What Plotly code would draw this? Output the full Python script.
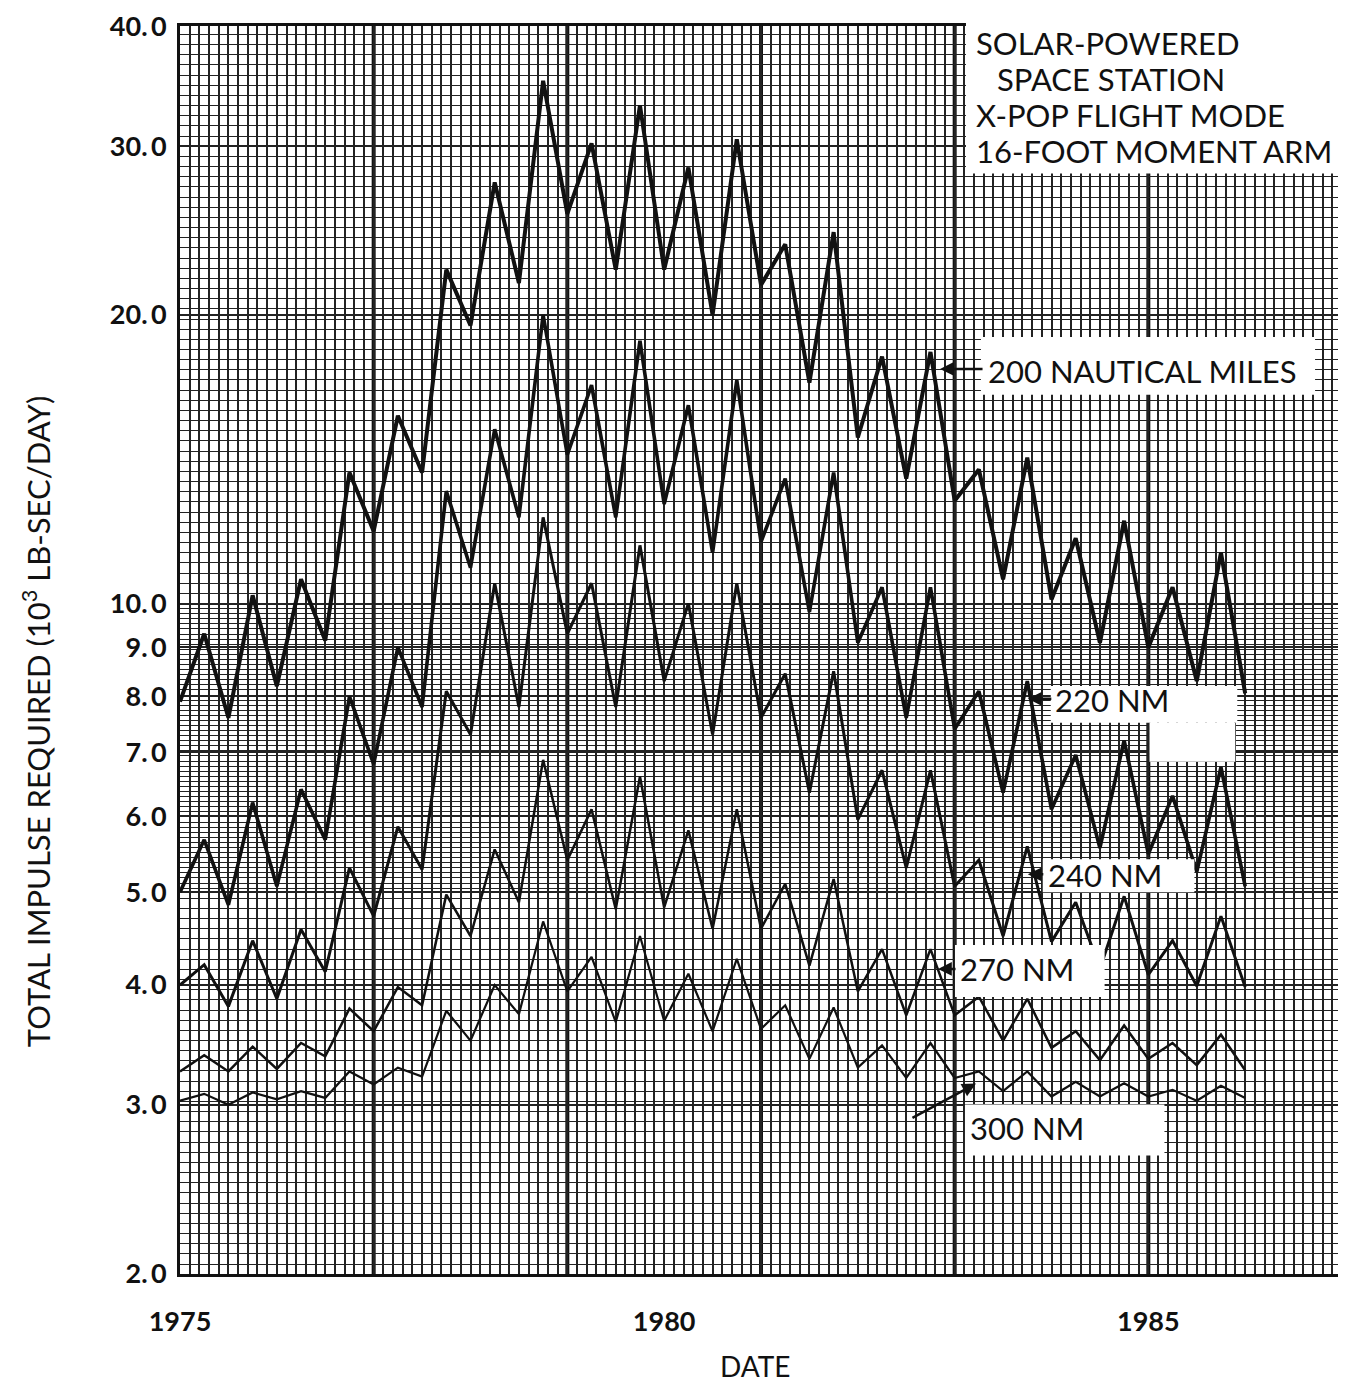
import numpy as np
import plotly.graph_objects as go

# ---------------- data ----------------
dates = [1975.0, 1975.25, 1975.5, 1975.75, 1976.0, 1976.25, 1976.5, 1976.75,
         1977.0, 1977.25, 1977.5, 1977.75, 1978.0, 1978.25, 1978.5, 1978.75,
         1979.0, 1979.25, 1979.5, 1979.75, 1980.0, 1980.25, 1980.5, 1980.75,
         1981.0, 1981.25, 1981.5, 1981.75, 1982.0, 1982.25, 1982.5, 1982.75,
         1983.0, 1983.25, 1983.5, 1983.75, 1984.0, 1984.25, 1984.5, 1984.75,
         1985.0, 1985.25, 1985.5, 1985.75, 1986.0]

nm200 = [7.9, 9.3, 7.6, 10.2, 8.2, 10.6, 9.15, 13.7, 11.9, 15.7, 13.7, 22.3,
         19.5, 27.5, 21.6, 35.1, 25.5, 30.2, 22.3, 33.1, 22.3, 28.5, 20.0, 30.5,
         21.5, 23.7, 17.0, 24.4, 14.9, 18.1, 13.5, 18.3, 12.8, 13.8, 10.6, 14.2,
         10.1, 11.7, 9.1, 12.2, 9.0, 10.4, 8.3, 11.3, 8.06]

nm220 = [5.0, 5.67, 4.85, 6.2, 5.07, 6.4, 5.67, 8.0, 6.8, 9.0, 7.8, 13.1,
         10.9, 15.2, 12.3, 20.0, 14.3, 16.9, 12.3, 18.8, 12.7, 16.1, 11.3, 17.1,
         11.6, 13.5, 9.8, 13.7, 9.1, 10.4, 7.6, 10.4, 7.4, 8.1, 6.35, 8.3,
         6.1, 6.95, 5.56, 7.2, 5.48, 6.3, 5.25, 6.75, 5.07]

nm240 = [4.0, 4.2, 3.8, 4.45, 3.87, 4.57, 4.13, 5.3, 4.72, 5.85, 5.28, 8.1,
         7.3, 10.5, 7.8, 12.3, 9.3, 10.5, 7.8, 11.5, 8.3, 10.0, 7.3, 10.5,
         7.6, 8.45, 6.35, 8.5, 5.95, 6.7, 5.3, 6.7, 5.07, 5.4, 4.5, 5.58,
         4.44, 4.88, 4.16, 4.95, 4.1, 4.45, 3.99, 4.72, 3.98]

nm270 = [3.25, 3.38, 3.25, 3.45, 3.27, 3.48, 3.37, 3.78, 3.58, 3.98, 3.81, 4.97,
         4.5, 5.54, 4.88, 6.87, 5.4, 6.1, 4.8, 6.6, 4.82, 5.8, 4.58, 6.1,
         4.58, 5.1, 4.19, 5.16, 3.94, 4.36, 3.72, 4.36, 3.72, 3.89, 3.5, 3.87,
         3.44, 3.58, 3.34, 3.63, 3.35, 3.48, 3.3, 3.55, 3.26]

nm300 = [3.03, 3.08, 3.0, 3.09, 3.04, 3.1, 3.05, 3.25, 3.15, 3.28, 3.21, 3.76,
         3.5, 4.0, 3.73, 4.66, 3.94, 4.28, 3.66, 4.5, 3.67, 4.11, 3.58, 4.26,
         3.6, 3.81, 3.35, 3.79, 3.28, 3.46, 3.2, 3.48, 3.2, 3.25, 3.1, 3.25,
         3.06, 3.17, 3.06, 3.16, 3.06, 3.11, 3.03, 3.14, 3.05]

y_tick_vals = [2, 3, 4, 5, 6, 7, 8, 9, 10, 20, 30, 40]
y_tick_text = ["2.\u20090", "3.\u20090", "4.\u20090", "5.\u20090", "6.\u20090",
               "7.\u20090", "8.\u20090", "9.\u20090", "10.\u20090", "20.\u20090",
               "30.\u20090", "40.\u20090"]
x_year_vals = [1975, 1976, 1977, 1978, 1979, 1980, 1981, 1982, 1983, 1984,
               1985, 1986, 1987]
x_year_text = ["1975", "", "", "", "", "1980", "", "", "", "", "1985", "", ""]
heavy_years = [1977, 1979, 1981, 1983, 1985]

series = [("200 NM", nm200, 4.0), ("220 NM", nm220, 3.6), ("240 NM", nm240, 3.0),
          ("270 NM", nm270, 2.5), ("300 NM", nm300, 2.2)]

# ---------------- figure geometry ----------------
# the page body has an 8 px margin, so the figure is 8 px smaller than the window
OFF = 8
W, H = 1346 - OFF, 1384 - OFF
L, R, T, B = 180 - OFF, 1, 22 - OFF, 110
PW, PH = W - L - R, H - T - B


def px(x):
    """reference-screen x pixel -> paper coordinate"""
    return (x - OFF - L) / PW


def py(y):
    """reference-screen y pixel -> paper coordinate"""
    return (T + PH - (y - OFF)) / PH


INK = "#111111"
GRID = "#222222"

fig = go.Figure()
for name, vals, w in series:
    fig.add_trace(go.Scatter(x=dates, y=vals, mode="lines", name=name,
                             line=dict(color=INK, width=w), showlegend=False,
                             hoverinfo="x+y+name"))

# graph-paper minor rulings on the log axis (uniform in pixel space)
lo, hi = np.log10(2) - 0.0004, np.log10(40) + 0.0004
step = 0.0106
up = np.arange(1.0, hi, step)
down = np.arange(1.0, lo, -step)
dense = np.arange(1.0, np.log10(5) - 1e-9, -step / 2)
minor_y = sorted(set(np.round(10 ** np.concatenate([up, down, dense]), 6)))

fig.update_xaxes(
    range=[1975, 1987], tickmode="array", tickvals=x_year_vals, ticktext=x_year_text,
    showgrid=True, gridcolor=GRID, gridwidth=2.0,
    minor=dict(tickmode="linear", tick0=1975, dtick=0.1, showgrid=True,
               gridcolor=GRID, gridwidth=1.5, ticks=""),
    ticks="outside", ticklen=22, tickcolor="rgba(0,0,0,0)",
    tickfont=dict(family="Lato", size=27, color=INK, weight="bold"),
    ticklabeloverflow="allow",
    showline=True, linecolor=INK, linewidth=3, mirror=True, zeroline=False,
)
fig.update_yaxes(
    type="log", range=[lo, hi], tickmode="array", tickvals=y_tick_vals,
    ticktext=y_tick_text, showgrid=True, gridcolor=GRID, gridwidth=1.8,
    minor=dict(tickmode="array", tickvals=minor_y, showgrid=True,
               gridcolor=GRID, gridwidth=1.4, ticks=""),
    ticks="outside", ticklen=5, tickcolor="rgba(0,0,0,0)",
    tickfont=dict(family="Lato", size=27, color=INK, weight="bold"),
    ticklabeloverflow="allow",
    showline=True, linecolor=INK, linewidth=3, mirror=True, zeroline=False,
)

shapes = []
for yr in heavy_years:
    shapes.append(dict(type="line", xref="x", yref="paper", x0=yr, x1=yr, y0=0, y1=1,
                       line=dict(color=INK, width=4), layer="below"))

# white label cut-outs in the graph paper (reference pixel boxes)
boxes = [(968, 14, 1346, 170), (983, 334, 1318, 392), (1053, 684, 1240, 721),
         (1152, 721, 1238, 760), (1045, 858, 1197, 891), (957, 944, 1107, 996),
         (967, 1104, 1167, 1155)]
for x0, y0, x1, y1 in boxes:
    shapes.append(dict(type="rect", xref="paper", yref="paper", x0=px(x0), x1=px(x1),
                       y0=py(y1), y1=py(y0), fillcolor="white", line=dict(width=0),
                       layer="above"))

ann = []
TF = dict(family="Lato", size=31, color=INK)
title_lines = [("SOLAR-POWERED", 976, 39), ("SPACE STATION", 997, 75),
               ("X-POP FLIGHT MODE", 976, 111), ("16-FOOT MOMENT ARM", 976, 147)]
for txt, x, y in title_lines:
    ann.append(dict(text=txt, xref="paper", yref="paper", x=px(x), y=py(y),
                    xanchor="left", yanchor="middle", showarrow=False, font=TF))

labels = [("200 NAUTICAL MILES", 988, 368), ("220 NM", 1055, 698),
          ("240 NM", 1048, 874), ("270 NM", 960, 968), ("300 NM", 970, 1128)]
for txt, x, y in labels:
    ann.append(dict(text=txt, xref="paper", yref="paper", x=px(x), y=py(y),
                    xanchor="left", yanchor="middle", showarrow=False, font=TF))

arrows = [((942, 366), (986, 366)), ((1030, 697), (1055, 697)),
          ((1030, 873), (1047, 873)), ((940, 968), (959, 968)),
          ((978, 1083), (913, 1118))]
for (tx, ty), (sx, sy) in arrows:
    ann.append(dict(text="", xref="paper", yref="paper", x=px(tx), y=py(ty),
                    ax=sx - tx, ay=sy - ty, showarrow=True, arrowhead=2,
                    arrowsize=1.1, arrowwidth=2.5, arrowcolor=INK))

ann.append(dict(text="TOTAL IMPULSE REQUIRED (10<sup>3</sup> LB-SEC/DAY)",
                xref="paper", yref="paper", x=px(36), y=py(720), textangle=-90,
                showarrow=False, font=dict(family="Lato", size=31, color=INK),
                xanchor="center", yanchor="middle"))
ann.append(dict(text="DATE", xref="paper", yref="paper", x=px(756), y=py(1366),
                showarrow=False, font=dict(family="Lato", size=28, color=INK),
                xanchor="center", yanchor="middle"))

fig.update_layout(
    width=W, height=H, margin=dict(l=L, r=R, t=T, b=B),
    paper_bgcolor="white", plot_bgcolor="white",
    shapes=shapes, annotations=ann, showlegend=False,
)

fig.write_html("out.html")
